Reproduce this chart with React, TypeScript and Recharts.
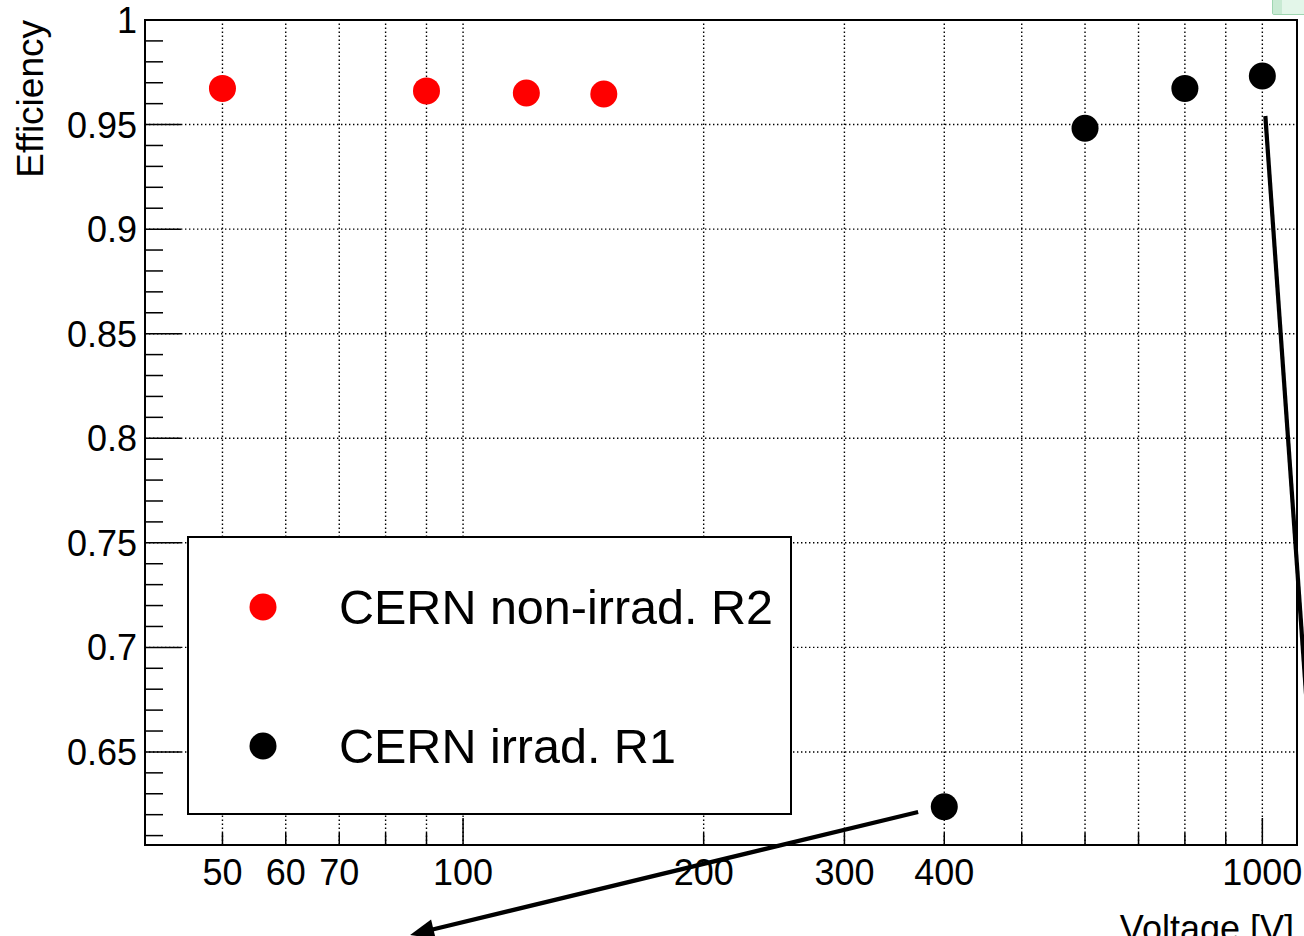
import React from 'react';
import { ScatterChart, Scatter, XAxis, YAxis, ReferenceLine, ReferenceArea, Legend } from 'recharts';

// ---- data ----
const redVoltage = [50, 90, 120, 150];
const redEfficiency = [0.9673, 0.9661, 0.9651, 0.9646];
const blackVoltage = [400, 600, 800, 1000];
const blackEfficiency = [0.6238, 0.9482, 0.9673, 0.9732];

const seriesNames = ['CERN non-irrad. R2', 'CERN irrad. R1'];

// ---- axes ----
const xDomain = [40, 1105];
const yDomain = [0.6055, 1];
const xTicks = [50, 60, 70, 80, 90, 100, 200, 300, 400, 500, 600, 700, 800, 900, 1000];
const xLabeled = [50, 60, 70, 100, 200, 300, 400, 1000];
const xMajor = [100, 1000];
const yTicksHundredths = Array.from({ length: 40 }, (_, i) => 61 + i);
const yTicks = yTicksHundredths.map((h) => h / 100);
const yLabeled = [0.65, 0.7, 0.75, 0.8, 0.85, 0.9, 0.95, 1];

// annotation arrows (data coordinates)
const arrowSegments = [
  { from: { x: 371, y: 0.6213 }, to: { x: 85.85, y: 0.5625 }, head: true },
  { from: { x: 1008.7, y: 0.9541 }, to: { x: 1151.7, y: 0.6414 }, head: false },
];

const FONT = '"Liberation Sans", Arial, Helvetica, sans-serif';

const redData = redVoltage.map((v, i) => ({ v, e: redEfficiency[i] }));
const blackData = blackVoltage.map((v, i) => ({ v, e: blackEfficiency[i] }));

const isLabeledY = (v: number) => yLabeled.some((l) => Math.abs(l - v) < 1e-6);

const XTick = (props: any) => {
  const { x, y, payload } = props;
  const v = payload.value;
  const len = xMajor.includes(v) ? 27 : 12;
  return (
    <g>
      <line x1={x} x2={x} y1={y} y2={y - len} stroke="#000" strokeWidth={1.5} />
      {xLabeled.includes(v) && (
        <text x={x} y={y + 40} textAnchor="middle" fontSize={36} fontFamily={FONT} fill="#000">
          {v}
        </text>
      )}
    </g>
  );
};

const YTick = (props: any) => {
  const { x, y, payload } = props;
  const v = payload.value;
  const major = isLabeledY(v);
  const len = major ? 36 : 18;
  return (
    <g>
      <line x1={x} x2={x + len} y1={y} y2={y} stroke="#000" strokeWidth={1.5} />
      {major && (
        <text x={x - 8} y={y + 13} textAnchor="end" fontSize={36} fontFamily={FONT} fill="#000">
          {String(v)}
        </text>
      )}
    </g>
  );
};

const Dot = (color: string) => (props: any) => (
  <circle cx={props.cx} cy={props.cy} r={13.5} fill={color} />
);

const ArrowShape = (withHead: boolean) => (props: any) => {
  const { x1, y1, x2, y2 } = props;
  const dx = x2 - x1;
  const dy = y2 - y1;
  const L = Math.sqrt(dx * dx + dy * dy) || 1;
  const ux = dx / L;
  const uy = dy / L;
  const hl = 24;
  const hw = 10;
  const bx = x2 - ux * hl;
  const by = y2 - uy * hl;
  const ex = withHead ? bx + ux * 2 : x2;
  const ey = withHead ? by + uy * 2 : y2;
  return (
    <g>
      <line x1={x1} y1={y1} x2={ex} y2={ey} stroke="#000" strokeWidth={4.2} />
      {withHead && (
        <polygon
          points={`${x2},${y2} ${bx - uy * hw},${by + ux * hw} ${bx + uy * hw},${by - ux * hw}`}
          fill="#000"
        />
      )}
    </g>
  );
};

const LegendBox = (props: any) => {
  const payload = (props.payload || []) as any[];
  const items = seriesNames.map((name, i) => {
    const p = payload.find((e) => e.value === name);
    return { name, color: p ? p.color : i === 0 ? '#ff0000' : '#000000' };
  });
  return (
    <svg width={606} height={280} style={{ display: 'block' }}>
      <rect x={1} y={1} width={603} height={277} fill="#fff" stroke="#000" strokeWidth={2} />
      {items.map((it, i) => (
        <g key={it.name}>
          <circle cx={76} cy={71 + i * 139} r={13.5} fill={it.color} />
          <text x={152} y={88 + i * 139} fontSize={48.5} fontFamily={FONT} fill="#000">
            {it.name}
          </text>
        </g>
      ))}
    </svg>
  );
};

export default function App() {
  return (
    <div style={{ position: 'fixed', left: 0, top: 0, width: 1304, height: 936, background: '#fff', overflow: 'hidden' }}>
      <div
        style={{
          position: 'absolute',
          left: 1272,
          top: -2,
          width: 34,
          height: 15,
          background: '#e3f6e9',
          border: '1px solid #9fd6b1',
          borderRadius: 2,
          zIndex: 5,
        }}
      >
        <div style={{ position: 'absolute', left: 0, top: 0, width: 9, height: 15, background: '#c8ead3' }} />
      </div>
      <ScatterChart width={1304} height={936} margin={{ top: 20, right: 7, bottom: 0, left: 0 }}>
        <XAxis
          type="number"
          dataKey="v"
          scale="log"
          domain={xDomain}
          allowDataOverflow
          ticks={xTicks}
          interval={0}
          tick={<XTick />}
          tickLine={false}
          tickSize={0}
          tickMargin={0}
          axisLine={false}
          height={91}
          label={{
            value: 'Voltage [V]',
            content: (p: any) => {
              const vb = p.viewBox || { x: 145, y: 845, width: 1152, height: 91 };
              return (
                <text x={vb.x + vb.width - 3} y={vb.y + 96} textAnchor="end" fontSize={36} fontFamily={FONT} fill="#000">
                  Voltage [V]
                </text>
              );
            },
          }}
        />
        <YAxis
          type="number"
          dataKey="e"
          domain={yDomain}
          allowDataOverflow
          ticks={yTicks}
          interval={0}
          tick={<YTick />}
          tickLine={false}
          tickSize={0}
          tickMargin={0}
          axisLine={false}
          width={145}
          label={{
            value: 'Efficiency',
            content: (p: any) => {
              const vb = p.viewBox || { x: 0, y: 20, width: 145, height: 825 };
              return (
                <text
                  x={43}
                  y={vb.y}
                  transform={`rotate(-90, 43, ${vb.y})`}
                  textAnchor="end"
                  fontSize={37}
                  fontFamily={FONT}
                  fill="#000"
                >
                  Efficiency
                </text>
              );
            },
          }}
        />
        {xTicks.map((t) => (
          <ReferenceLine key={'gx' + t} x={t} stroke="#000" strokeWidth={1.4} strokeDasharray="1.4 2.6" />
        ))}
        {yLabeled.map((t) => (
          <ReferenceLine key={'gy' + t} y={t} stroke="#000" strokeWidth={1.4} strokeDasharray="1.4 2.6" />
        ))}
        <ReferenceArea x1={xDomain[0]} x2={xDomain[1]} y1={yDomain[0]} y2={yDomain[1]} fill="none" fillOpacity={0} stroke="#000" strokeWidth={2} strokeOpacity={1} />
        <Legend
          layout="vertical"
          align="center"
          verticalAlign="middle"
          content={<LegendBox />}
          wrapperStyle={{ position: 'absolute', left: 187, top: 536, width: 606, height: 280 }}
        />
        <Scatter name={seriesNames[0]} data={redData} fill="#ff0000" shape={Dot('#ff0000')} isAnimationActive={false} />
        <Scatter name={seriesNames[1]} data={blackData} fill="#000000" shape={Dot('#000000')} isAnimationActive={false} />
        {arrowSegments.map((a, i) => (
          <ReferenceLine
            key={'arrow' + i}
            segment={[a.from, a.to]}
            ifOverflow="visible"
            shape={ArrowShape(a.head)}
          />
        ))}
      </ScatterChart>
    </div>
  );
}
